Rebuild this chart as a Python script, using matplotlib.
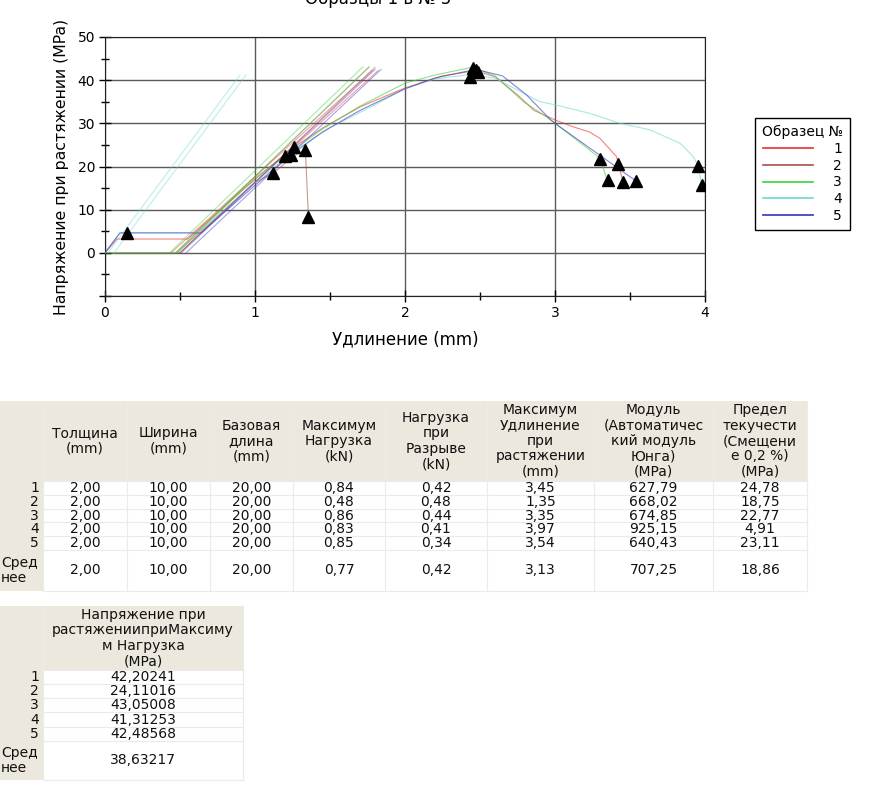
import matplotlib
matplotlib.use("Agg")
import matplotlib.pyplot as plt
from matplotlib.lines import Line2D
from matplotlib.patches import Rectangle

plt.rcParams['font.family'] = ['DejaVu Sans']

# ── Curves (elongation mm, stress MPa) ─────────────────────────────────
s1_x = [0, 0.08, 0.55, 0.9, 1.1, 1.262, 1.45, 1.7, 2.0, 2.25, 2.47, 2.6, 2.75, 2.86, 3.0, 3.12, 3.23, 3.3, 3.41, 3.433, 3.45]
s1_y = [0, 3.2, 3.2, 14.0, 20.0, 24.5, 28.9, 33.8, 38.2, 41.0, 42.2, 40.8, 36.6, 33.0, 30.8, 29.2, 28.0, 26.5, 22.3, 19.2, 16.9]
s2_x = [0, 0.5, 0.8, 1.0, 1.118, 1.262, 1.336, 1.356]
s2_y = [0, 0, 10.0, 16.3, 18.4, 22.5, 23.8, 8.35]
s3_x = [0, 0.48, 0.8, 1.0, 1.2, 1.45, 1.7, 2.0, 2.2, 2.45, 2.6, 2.79, 2.9, 3.0, 3.15, 3.3, 3.344, 3.355]
s3_y = [0, 0, 10.7, 17.3, 22.4, 28.7, 34.0, 39.3, 41.2, 43.0, 41.0, 35.0, 32.5, 30.0, 26.0, 21.9, 17.3, 16.9]
s4_x = [0, 0.1, 0.633, 0.9, 1.1, 1.3, 1.5, 1.8, 2.0, 2.2, 2.43, 2.6, 2.81, 2.9, 3.0, 3.233, 3.433, 3.633, 3.833, 3.922, 3.955, 3.978]
s4_y = [0, 4.7, 4.7, 13.2, 19.2, 24.5, 29.0, 34.3, 38.0, 40.3, 41.3, 40.5, 36.6, 35.0, 34.3, 32.3, 30.0, 28.5, 25.4, 22.3, 20.1, 15.7]
s5_x = [0, 0.1, 0.64, 0.9, 1.1, 1.24, 1.45, 1.7, 2.0, 2.2, 2.47, 2.65, 2.81, 2.96, 3.0, 3.542]
s5_y = [0, 4.6, 4.6, 12.6, 18.7, 22.7, 28.0, 33.0, 38.0, 40.5, 42.5, 41.0, 36.6, 31.2, 30.0, 16.6]

# modulus / 0.2% offset lines: (x0, 0) -> (x1, y1)
mod_x0 = [[0.44, 0.48], [0.47, 0.51], [0.43, 0.47], [0.02, 0.06], [0.50, 0.54]]
mod_x1 = [[1.78, 1.82], [1.76, 1.80], [1.72, 1.76], [0.90, 0.94], [1.80, 1.84]]
mod_y1 = [42.2, 43.0, 43.1, 41.2, 42.5]

# event markers (yield, max, break)
mark_x = [0.149, 1.118, 1.20, 1.24, 1.262, 1.336, 1.356, 2.433, 2.451, 2.489, 2.47,
          3.302, 3.422, 3.355, 3.453, 3.542, 3.955, 3.978]
mark_y = [4.6, 18.4, 22.4, 22.7, 24.5, 23.8, 8.35, 40.8, 42.8, 42.0, 42.3,
          21.7, 20.6, 16.9, 16.5, 16.6, 20.1, 15.7]

spec_labels = ['1', '2', '3', '4', '5']
spec_colors = ['#e8302c', '#a8504c', '#3cd23c', '#6cd8d0', '#3434c0']

# ── Table data ─────────────────────────────────────────────────────────
row_labels = ['1', '2', '3', '4', '5', 'Сред\nнее']
t1_headers = ['Толщина\n(mm)', 'Ширина\n(mm)', 'Базовая\nдлина\n(mm)',
              'Максимум\nНагрузка\n(kN)', 'Нагрузка\nпри\nРазрыве\n(kN)',
              'Максимум\nУдлинение\nпри\nрастяжении\n(mm)',
              'Модуль\n(Автоматичес\nкий модуль\nЮнга)\n(MPa)',
              'Предел\nтекучести\n(Смещени\nе 0,2 %)\n(MPa)']
thickness = [2.00, 2.00, 2.00, 2.00, 2.00, 2.00]
width = [10.00, 10.00, 10.00, 10.00, 10.00, 10.00]
gauge = [20.00, 20.00, 20.00, 20.00, 20.00, 20.00]
max_load = [0.84, 0.48, 0.86, 0.83, 0.85, 0.77]
break_load = [0.42, 0.48, 0.44, 0.41, 0.34, 0.42]
max_elong = [3.45, 1.35, 3.35, 3.97, 3.54, 3.13]
modulus = [627.79, 668.02, 674.85, 925.15, 640.43, 707.25]
yield_str = [24.78, 18.75, 22.77, 4.91, 23.11, 18.86]
t2_headers = ['Напряжение при\nрастяженииприМаксиму\nм Нагрузка\n(MPa)']
stress_at_max = [42.20241, 24.11016, 43.05008, 41.31253, 42.48568, 38.63217]

W, H = 870, 806
fig = plt.figure(figsize=(W / 100, H / 100), dpi=100)

# ── Chart ──────────────────────────────────────────────────────────────
ax = fig.add_axes([105 / W, 1 - 296 / H, 600 / W, 259 / H])
curves = [(s1_x, s1_y), (s2_x, s2_y), (s3_x, s3_y), (s4_x, s4_y), (s5_x, s5_y)]
for i, (cx, cy) in enumerate(curves):
    c = spec_colors[i]
    ax.plot(cx, cy, color=c, lw=0.8, alpha=0.6, zorder=3)
    for x0, x1 in zip(mod_x0[i], mod_x1[i]):
        ax.plot([x0, x1], [0, mod_y1[i]], color=c, lw=0.8, alpha=0.45, zorder=3)
ax.plot(mark_x, mark_y, linestyle='none', marker='^', ms=8.5, color='black', zorder=5)

ax.set_xlim(0, 4)
ax.set_ylim(-10, 50)
ax.set_xticks([0, 1, 2, 3, 4])
ax.set_xticks([0.5, 1.5, 2.5, 3.5], minor=True)
ax.set_yticks([-10, 0, 10, 20, 30, 40, 50])
ax.set_yticklabels(['', '0', '10', '20', '30', '40', '50'])
ax.set_yticks([-5, 5, 15, 25, 35, 45], minor=True)
ax.grid(which='major', color='#5a5a5a', lw=1)
ax.set_axisbelow(True)
ax.tick_params(which='major', direction='inout', length=8, width=1, labelsize=10, pad=3)
ax.tick_params(which='minor', direction='inout', length=6, width=1)
for sp in ax.spines.values():
    sp.set_color('#222222')
ax.set_xlabel('Удлинение (mm)', fontsize=12, labelpad=8)
ax.set_ylabel('Напряжение при растяжении (MPa)', fontsize=11.3, labelpad=6)

handles = [Line2D([], [], color=c, lw=1.2) for c in spec_colors]
leg = ax.legend(handles, spec_labels, title='Образец №', loc='upper left',
                bbox_to_anchor=(755 / W, 1 - 118 / H), bbox_transform=fig.transFigure,
                fancybox=False, edgecolor='black', framealpha=1, borderaxespad=0,
                handlelength=3.6, handletextpad=1.5, labelspacing=0.2,
                fontsize=10, title_fontsize=10, borderpad=0.5)
leg.get_frame().set_linewidth(1)

fig.text(378 / W, 1 - 4 / H, 'Образцы 1 в № 5', ha='center', va='baseline', fontsize=12)

# ── Tables ─────────────────────────────────────────────────────────────
tab = fig.add_axes([0, 0, 1, 1])
tab.set_xlim(0, W)
tab.set_ylim(H, 0)
tab.axis('off')
BEIGE = '#ece8dd'
GRID = '#ebebeb'


def fmt(v, nd):
    return f"{v:.{nd}f}".replace('.', ',')


def draw_table(cols, top, head_bot, rows, headers, columns):
    bottom = rows[-1]
    tab.add_patch(Rectangle((cols[0], top), cols[-1] - cols[0], head_bot - top,
                            color=BEIGE, lw=0))
    tab.add_patch(Rectangle((cols[0], head_bot), cols[1] - cols[0], bottom - head_bot,
                            color=BEIGE, lw=0))
    for x in cols[1:]:
        tab.plot([x, x], [top, bottom], color=GRID, lw=0.8)
    for y in rows:
        tab.plot([cols[1], cols[-1]], [y, y], color=GRID, lw=0.8)
    for j, h in enumerate(headers):
        tab.text((cols[j + 1] + cols[j + 2]) / 2, (top + head_bot) / 2, h,
                 ha='center', va='center', fontsize=10, linespacing=1.13, color='#111111')
    for r, lab in enumerate(row_labels):
        yc = (rows[r] + rows[r + 1]) / 2
        if r < 5:
            tab.text(cols[1] - 4, yc, lab, ha='right', va='center', fontsize=10, color='#111111')
        else:
            tab.text(cols[0] + 1, yc, lab, ha='left', va='center', fontsize=10,
                     linespacing=1.13, color='#111111')
        for j, (vals, nd) in enumerate(columns):
            tab.text((cols[j + 1] + cols[j + 2]) / 2, yc, fmt(vals[r], nd),
                     ha='center', va='center', fontsize=10, color='#111111')


t1_cols = [0, 43, 127, 210, 293, 385, 487, 594, 713, 807]
t1_rows = [481, 495, 509, 522, 536, 550, 591]
draw_table(t1_cols, 401, 481, t1_rows, t1_headers,
           [(thickness, 2), (width, 2), (gauge, 2), (max_load, 2), (break_load, 2),
            (max_elong, 2), (modulus, 2), (yield_str, 2)])

t2_cols = [0, 43, 243]
t2_rows = [670, 684, 698, 712, 727, 741, 780]
draw_table(t2_cols, 606, 670, t2_rows, t2_headers, [(stress_at_max, 5)])

fig.savefig('out.png', dpi=100)
